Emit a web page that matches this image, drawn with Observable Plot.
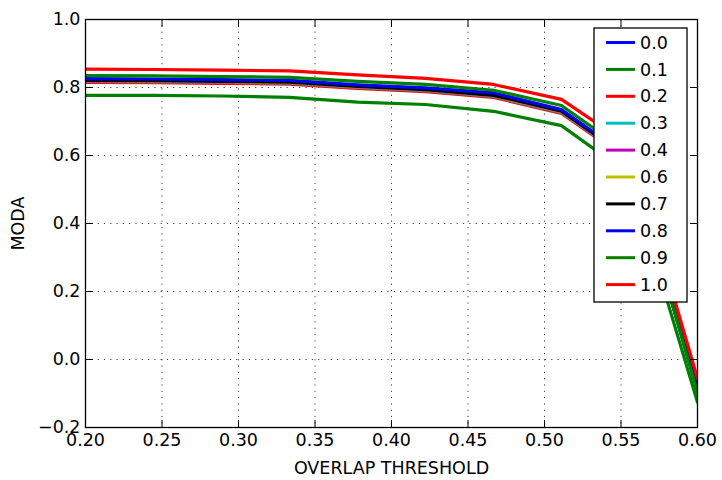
<!DOCTYPE html>
<html><head><meta charset="utf-8">
<script src="https://cdn.jsdelivr.net/npm/d3@7"></script>
<script src="https://cdn.jsdelivr.net/npm/@observablehq/plot@0.6"></script>
<style>
body{margin:0;background:#fff;}
#chart{width:722px;height:480px;}
</style></head><body><div id="chart"></div>
<script>
// Data
const thresholds = [0.2, 0.2444, 0.2889, 0.3333, 0.3778, 0.4222, 0.4667, 0.5111, 0.5556, 0.6];
const seriesNames = ["0.0","0.1","0.2","0.3","0.4","0.6","0.7","0.8","0.9","1.0"];
const seriesColors = ["#0000ff","#008000","#ff0000","#00bfbf","#bf00bf","#bfbf00","#000000","#0000ff","#008000","#ff0000"];
const moda00 = [0.822, 0.821, 0.819, 0.817, 0.804, 0.795, 0.778, 0.731, 0.591, -0.086];
const moda01 = [0.777, 0.777, 0.775, 0.771, 0.757, 0.750, 0.730, 0.688, 0.544, -0.126];
const moda02 = [0.815, 0.814, 0.812, 0.810, 0.797, 0.788, 0.771, 0.724, 0.585, -0.078];
const moda03 = [0.818, 0.817, 0.815, 0.813, 0.800, 0.791, 0.774, 0.727, 0.587, -0.082];
const moda04 = [0.819, 0.818, 0.816, 0.814, 0.801, 0.792, 0.775, 0.728, 0.588, -0.083];
const moda06 = [0.820, 0.819, 0.817, 0.815, 0.802, 0.793, 0.776, 0.729, 0.589, -0.084];
const moda07 = [0.821, 0.820, 0.818, 0.816, 0.803, 0.794, 0.777, 0.730, 0.590, -0.085];
const moda08 = [0.826, 0.825, 0.823, 0.821, 0.808, 0.799, 0.784, 0.735, 0.594, -0.090];
const moda09 = [0.835, 0.834, 0.832, 0.830, 0.818, 0.809, 0.792, 0.747, 0.606, -0.098];
const moda10 = [0.854, 0.853, 0.851, 0.849, 0.837, 0.827, 0.809, 0.765, 0.630, -0.056];
const xTicks = [0.20, 0.25, 0.30, 0.35, 0.40, 0.45, 0.50, 0.55, 0.60];
const yTicks = [-0.2, 0.0, 0.2, 0.4, 0.6, 0.8, 1.0];
const xLabel = "OVERLAP THRESHOLD";
const yLabel = "MODA";

const allSeries = [moda00, moda01, moda02, moda03, moda04, moda06, moda07, moda08, moda09, moda10];
const rows = seriesNames.flatMap((s, i) => thresholds.map((t, j) => ({series: s, x: t, y: allSeries[i][j]})));

const FONT = "'DejaVu Sans', sans-serif";
const FS = 17.5;
const tickShape = {draw(ctx, l) { ctx.moveTo(0, 0); ctx.lineTo(0, -l); }};
const tickOpts = {length: 7, anchor: "start", shape: tickShape, stroke: "black", strokeWidth: 1};
const gridOpts = {stroke: "black", strokeOpacity: 0.75, strokeWidth: 1, strokeDasharray: "1.2,5.1"};

const chart = Plot.plot({
  width: 722, height: 480,
  marginLeft: 85, marginRight: 25, marginTop: 19, marginBottom: 53,
  style: {fontFamily: FONT, fontSize: FS + "px", background: "white", color: "black", overflow: "visible"},
  x: {domain: [0.2, 0.6]},
  y: {domain: [-0.2, 1.0]},
  color: {domain: seriesNames, range: seriesColors},
  marks: [
    Plot.gridX(xTicks, gridOpts),
    Plot.gridY(yTicks, gridOpts),
    Plot.line(rows, {x: "x", y: "y", z: "series", stroke: "series", strokeWidth: 3.2, clip: true}),
    Plot.axisX(xTicks, {tickSize: 0, tickPadding: 6, tickFormat: d3.format(".2f"), label: null, fontSize: FS}),
    Plot.axisY(yTicks, {tickSize: 0, tickPadding: 5, tickFormat: d3.format(".1f"), label: null, fontSize: FS}),
    Plot.vector(xTicks, {x: d => d, frameAnchor: "bottom", rotate: 0, ...tickOpts}),
    Plot.vector(xTicks, {x: d => d, frameAnchor: "top", rotate: 180, ...tickOpts}),
    Plot.vector(yTicks, {y: d => d, frameAnchor: "left", rotate: 90, ...tickOpts}),
    Plot.vector(yTicks, {y: d => d, frameAnchor: "right", rotate: 270, ...tickOpts}),
    Plot.frame({stroke: "black", strokeWidth: 1.3}),
    Plot.text([xLabel], {text: d => d, frameAnchor: "bottom", textAnchor: "middle", lineAnchor: "middle", dy: 41, fontSize: FS, fill: "black"}),
    Plot.text([yLabel], {text: d => d, frameAnchor: "left", textAnchor: "middle", lineAnchor: "middle", dx: -67, rotate: -90, fontSize: FS, fill: "black"})
  ]
});

// Legend (matplotlib-style box inside the axes, upper right)
const svg = d3.select(chart);
const lg = svg.append("g").attr("font-family", FONT).attr("font-size", FS);
const lx = 594, ly = 28, lw = 93, lh = 274, step = 26.9;
lg.append("rect").attr("x", lx).attr("y", ly).attr("width", lw).attr("height", lh)
  .attr("fill", "white").attr("stroke", "black").attr("stroke-width", 1.3);
seriesNames.forEach((s, i) => {
  const cy = ly + 14.5 + i * step;
  lg.append("line").attr("x1", lx + 12).attr("x2", lx + 41).attr("y1", cy).attr("y2", cy)
    .attr("stroke", seriesColors[i]).attr("stroke-width", 3);
  lg.append("text").attr("x", lx + 60).attr("y", cy).attr("dy", "0.35em").attr("fill", "black").text(s);
});

document.getElementById("chart").appendChild(chart);
</script>
</body></html>
